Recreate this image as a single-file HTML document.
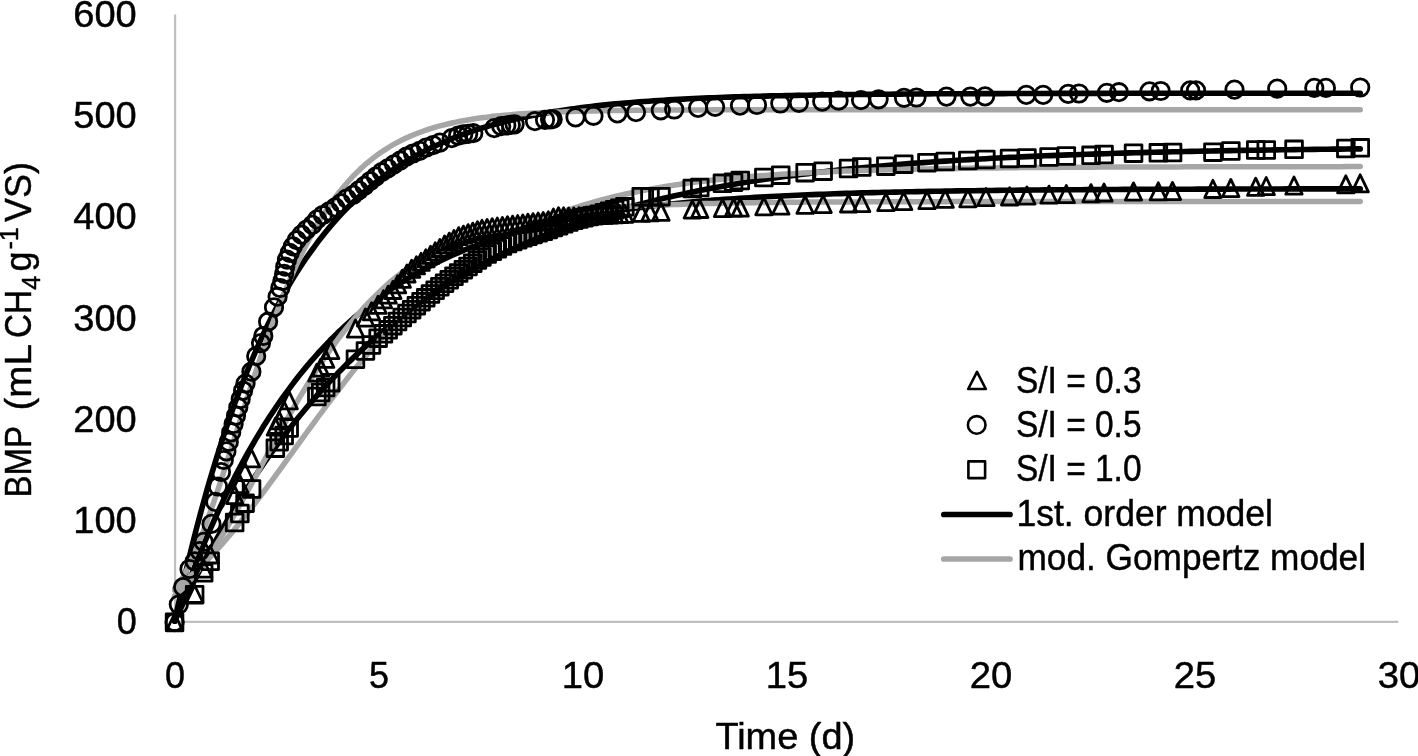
<!DOCTYPE html>
<html lang="en"><head><meta charset="utf-8"><title>BMP chart</title>
<style>html,body{margin:0;padding:0;background:#fff}svg{display:block}</style></head>
<body>
<svg width="1418" height="756" viewBox="0 0 1418 756">
<rect width="1418" height="756" fill="#fff"/>
<g stroke="#bfbfbf" fill="none"><path d="M175.1 14.6V622.8" stroke-width="2.2"/><path d="M174.1 621.8H1398.3" stroke-width="2.3"/></g>
<g stroke="#000" stroke-width="5.6" fill="none" stroke-linecap="round" stroke-linejoin="round">
<path d="M174.7 621.2 L177.9 606.4 L181.2 591.9 L184.4 577.8 L187.7 564.0 L190.9 550.6 L194.2 537.4 L197.5 524.6 L200.8 512.2 L204.2 500.0 L207.5 488.1 L210.9 476.5 L214.3 465.2 L217.7 454.3 L221.1 443.5 L224.5 433.1 L227.9 422.9 L231.4 413.0 L234.8 403.4 L238.3 394.0 L241.8 384.8 L245.3 375.9 L248.8 367.2 L252.4 358.8 L255.9 350.6 L259.5 342.6 L263.0 334.8 L266.6 327.3 L270.2 319.9 L273.9 312.8 L277.5 305.8 L281.2 299.1 L284.8 292.5 L288.5 286.1 L292.2 279.9 L295.9 273.9 L299.6 268.0 L303.4 262.3 L307.1 256.8 L310.9 251.5 L314.7 246.3 L318.4 241.2 L322.3 236.3 L326.1 231.5 L329.9 226.9 L333.8 222.4 L337.6 218.1 L341.5 213.9 L345.4 209.8 L349.3 205.8 L353.2 202.0 L357.2 198.3 L361.1 194.7 L365.1 191.2 L369.1 187.8 L373.1 184.5 L377.1 181.3 L381.1 178.2 L385.2 175.2 L389.2 172.3 L393.3 169.5 L397.4 166.8 L401.5 164.2 L405.6 161.7 L409.7 159.2 L413.8 156.9 L418.0 154.6 L422.2 152.3 L426.3 150.2 L430.5 148.1 L434.7 146.1 L439.0 144.2 L443.2 142.3 L447.5 140.5 L451.7 138.7 L456.0 137.0 L460.3 135.4 L464.6 133.8 L469.0 132.3 L473.3 130.8 L477.7 129.4 L482.0 128.0 L486.4 126.7 L490.8 125.4 L495.2 124.2 L499.7 123.0 L504.1 121.8 L508.6 120.7 L513.0 119.7 L517.5 118.6 L522.0 117.6 L526.5 116.7 L531.1 115.8 L535.6 114.9 L540.2 114.0 L544.7 113.2 L549.3 112.4 L553.9 111.6 L558.5 110.9 L563.2 110.2 L567.8 109.5 L572.5 108.9 L577.1 108.2 L581.8 107.6 L586.5 107.0 L591.2 106.5 L596.0 105.9 L600.7 105.4 L605.5 104.9 L610.3 104.4 L615.0 103.9 L619.8 103.5 L624.7 103.1 L629.5 102.7 L634.3 102.3 L639.2 101.9 L644.1 101.5 L649.0 101.2 L653.9 100.8 L658.8 100.5 L663.7 100.2 L668.7 99.9 L673.6 99.6 L678.6 99.3 L683.6 99.1 L688.6 98.8 L693.6 98.6 L698.6 98.3 L703.7 98.1 L708.8 97.9 L713.8 97.7 L718.9 97.5 L724.0 97.3 L729.2 97.1 L734.3 96.9 L739.4 96.8 L744.6 96.6 L749.8 96.5 L755.0 96.3 L760.2 96.2 L765.4 96.1 L770.6 95.9 L775.9 95.8 L781.1 95.7 L786.4 95.6 L791.7 95.5 L797.0 95.4 L802.3 95.3 L807.7 95.2 L813.0 95.1 L818.4 95.0 L823.8 94.9 L829.2 94.8 L834.6 94.8 L840.0 94.7 L845.4 94.6 L850.9 94.5 L856.3 94.5 L861.8 94.4 L867.3 94.4 L872.8 94.3 L878.4 94.3 L883.9 94.2 L889.4 94.2 L895.0 94.1 L900.6 94.1 L906.2 94.0 L911.8 94.0 L917.4 94.0 L923.1 93.9 L928.7 93.9 L934.4 93.8 L940.1 93.8 L945.8 93.8 L951.5 93.8 L957.2 93.7 L962.9 93.7 L968.7 93.7 L974.4 93.7 L980.2 93.6 L986.0 93.6 L991.8 93.6 L997.7 93.6 L1003.5 93.6 L1009.4 93.5 L1015.2 93.5 L1021.1 93.5 L1027.0 93.5 L1032.9 93.5 L1038.8 93.5 L1044.8 93.5 L1050.7 93.4 L1056.7 93.4 L1062.7 93.4 L1068.7 93.4 L1074.7 93.4 L1080.7 93.4 L1086.8 93.4 L1092.8 93.4 L1098.9 93.4 L1105.0 93.4 L1111.1 93.3 L1117.2 93.3 L1123.3 93.3 L1129.5 93.3 L1135.6 93.3 L1141.8 93.3 L1148.0 93.3 L1154.2 93.3 L1160.4 93.3 L1166.6 93.3 L1172.9 93.3 L1179.1 93.3 L1185.4 93.3 L1191.7 93.3 L1198.0 93.3 L1204.3 93.3 L1210.6 93.3 L1217.0 93.3 L1223.3 93.3 L1229.7 93.3 L1236.1 93.3 L1242.5 93.3 L1248.9 93.3 L1255.3 93.3 L1261.8 93.2 L1268.3 93.2 L1274.7 93.2 L1281.2 93.2 L1287.7 93.2 L1294.2 93.2 L1300.8 93.2 L1307.3 93.2 L1313.9 93.2 L1320.4 93.2 L1327.0 93.2 L1333.6 93.2 L1340.3 93.2 L1346.9 93.2 L1353.5 93.2 L1360.2 93.2"/>
<path d="M174.7 621.2 L177.9 614.3 L181.2 607.5 L184.4 600.8 L187.7 594.1 L190.9 587.5 L194.2 581.0 L197.5 574.5 L200.8 568.1 L204.2 561.8 L207.5 555.6 L210.9 549.4 L214.3 543.3 L217.7 537.2 L221.1 531.2 L224.5 525.3 L227.9 519.5 L231.4 513.7 L234.8 508.0 L238.3 502.3 L241.8 496.7 L245.3 491.2 L248.8 485.7 L252.4 480.4 L255.9 475.0 L259.5 469.8 L263.0 464.6 L266.6 459.4 L270.2 454.4 L273.9 449.3 L277.5 444.4 L281.2 439.5 L284.8 434.7 L288.5 429.9 L292.2 425.2 L295.9 420.6 L299.6 416.0 L303.4 411.5 L307.1 407.0 L310.9 402.6 L314.7 398.2 L318.4 393.9 L322.3 389.7 L326.1 385.5 L329.9 381.4 L333.8 377.4 L337.6 373.3 L341.5 369.4 L345.4 365.5 L349.3 361.6 L353.2 357.9 L357.2 354.1 L361.1 350.4 L365.1 346.8 L369.1 343.2 L373.1 339.7 L377.1 336.2 L381.1 332.8 L385.2 329.4 L389.2 326.1 L393.3 322.8 L397.4 319.6 L401.5 316.4 L405.6 313.3 L409.7 310.2 L413.8 307.1 L418.0 304.1 L422.2 301.2 L426.3 298.3 L430.5 295.4 L434.7 292.6 L439.0 289.8 L443.2 287.1 L447.5 284.4 L451.7 281.8 L456.0 279.2 L460.3 276.6 L464.6 274.1 L469.0 271.6 L473.3 269.2 L477.7 266.8 L482.0 264.4 L486.4 262.1 L490.8 259.8 L495.2 257.6 L499.7 255.4 L504.1 253.2 L508.6 251.1 L513.0 249.0 L517.5 246.9 L522.0 244.9 L526.5 242.9 L531.1 241.0 L535.6 239.0 L540.2 237.2 L544.7 235.3 L549.3 233.5 L553.9 231.7 L558.5 229.9 L563.2 228.2 L567.8 226.5 L572.5 224.8 L577.1 223.2 L581.8 221.6 L586.5 220.0 L591.2 218.4 L596.0 216.9 L600.7 215.4 L605.5 214.0 L610.3 212.5 L615.0 211.1 L619.8 209.7 L624.7 208.4 L629.5 207.0 L634.3 205.7 L639.2 204.4 L644.1 203.2 L649.0 201.9 L653.9 200.7 L658.8 199.5 L663.7 198.3 L668.7 197.2 L673.6 196.1 L678.6 195.0 L683.6 193.9 L688.6 192.8 L693.6 191.8 L698.6 190.8 L703.7 189.8 L708.8 188.8 L713.8 187.8 L718.9 186.9 L724.0 186.0 L729.2 185.1 L734.3 184.2 L739.4 183.3 L744.6 182.5 L749.8 181.6 L755.0 180.8 L760.2 180.0 L765.4 179.3 L770.6 178.5 L775.9 177.7 L781.1 177.0 L786.4 176.3 L791.7 175.6 L797.0 174.9 L802.3 174.2 L807.7 173.6 L813.0 172.9 L818.4 172.3 L823.8 171.7 L829.2 171.1 L834.6 170.5 L840.0 169.9 L845.4 169.3 L850.9 168.8 L856.3 168.2 L861.8 167.7 L867.3 167.2 L872.8 166.7 L878.4 166.2 L883.9 165.7 L889.4 165.2 L895.0 164.8 L900.6 164.3 L906.2 163.9 L911.8 163.4 L917.4 163.0 L923.1 162.6 L928.7 162.2 L934.4 161.8 L940.1 161.4 L945.8 161.1 L951.5 160.7 L957.2 160.3 L962.9 160.0 L968.7 159.6 L974.4 159.3 L980.2 159.0 L986.0 158.7 L991.8 158.3 L997.7 158.0 L1003.5 157.7 L1009.4 157.4 L1015.2 157.2 L1021.1 156.9 L1027.0 156.6 L1032.9 156.4 L1038.8 156.1 L1044.8 155.8 L1050.7 155.6 L1056.7 155.4 L1062.7 155.1 L1068.7 154.9 L1074.7 154.7 L1080.7 154.5 L1086.8 154.3 L1092.8 154.1 L1098.9 153.9 L1105.0 153.7 L1111.1 153.5 L1117.2 153.3 L1123.3 153.1 L1129.5 152.9 L1135.6 152.8 L1141.8 152.6 L1148.0 152.4 L1154.2 152.3 L1160.4 152.1 L1166.6 152.0 L1172.9 151.8 L1179.1 151.7 L1185.4 151.5 L1191.7 151.4 L1198.0 151.3 L1204.3 151.1 L1210.6 151.0 L1217.0 150.9 L1223.3 150.8 L1229.7 150.6 L1236.1 150.5 L1242.5 150.4 L1248.9 150.3 L1255.3 150.2 L1261.8 150.1 L1268.3 150.0 L1274.7 149.9 L1281.2 149.8 L1287.7 149.7 L1294.2 149.6 L1300.8 149.5 L1307.3 149.5 L1313.9 149.4 L1320.4 149.3 L1327.0 149.2 L1333.6 149.1 L1340.3 149.1 L1346.9 149.0 L1353.5 148.9 L1360.2 148.9"/>
<path d="M174.7 621.2 L177.9 611.9 L181.2 602.8 L184.4 593.8 L187.7 585.0 L190.9 576.4 L194.2 567.9 L197.5 559.5 L200.8 551.3 L204.2 543.3 L207.5 535.4 L210.9 527.6 L214.3 520.0 L217.7 512.5 L221.1 505.1 L224.5 497.9 L227.9 490.8 L231.4 483.9 L234.8 477.1 L238.3 470.4 L241.8 463.9 L245.3 457.4 L248.8 451.1 L252.4 445.0 L255.9 438.9 L259.5 433.0 L263.0 427.1 L266.6 421.4 L270.2 415.8 L273.9 410.4 L277.5 405.0 L281.2 399.7 L284.8 394.6 L288.5 389.6 L292.2 384.6 L295.9 379.8 L299.6 375.0 L303.4 370.4 L307.1 365.9 L310.9 361.4 L314.7 357.1 L318.4 352.8 L322.3 348.7 L326.1 344.6 L329.9 340.6 L333.8 336.7 L337.6 332.9 L341.5 329.2 L345.4 325.6 L349.3 322.0 L353.2 318.5 L357.2 315.1 L361.1 311.8 L365.1 308.6 L369.1 305.4 L373.1 302.3 L377.1 299.2 L381.1 296.3 L385.2 293.4 L389.2 290.6 L393.3 287.8 L397.4 285.1 L401.5 282.5 L405.6 279.9 L409.7 277.4 L413.8 275.0 L418.0 272.6 L422.2 270.3 L426.3 268.0 L430.5 265.8 L434.7 263.7 L439.0 261.5 L443.2 259.5 L447.5 257.5 L451.7 255.5 L456.0 253.6 L460.3 251.8 L464.6 250.0 L469.0 248.2 L473.3 246.5 L477.7 244.8 L482.0 243.2 L486.4 241.6 L490.8 240.1 L495.2 238.6 L499.7 237.1 L504.1 235.7 L508.6 234.3 L513.0 232.9 L517.5 231.6 L522.0 230.3 L526.5 229.1 L531.1 227.9 L535.6 226.7 L540.2 225.5 L544.7 224.4 L549.3 223.3 L553.9 222.3 L558.5 221.2 L563.2 220.2 L567.8 219.3 L572.5 218.3 L577.1 217.4 L581.8 216.5 L586.5 215.6 L591.2 214.8 L596.0 214.0 L600.7 213.2 L605.5 212.4 L610.3 211.7 L615.0 210.9 L619.8 210.2 L624.7 209.5 L629.5 208.9 L634.3 208.2 L639.2 207.6 L644.1 207.0 L649.0 206.4 L653.9 205.8 L658.8 205.3 L663.7 204.7 L668.7 204.2 L673.6 203.7 L678.6 203.2 L683.6 202.7 L688.6 202.2 L693.6 201.8 L698.6 201.4 L703.7 200.9 L708.8 200.5 L713.8 200.1 L718.9 199.7 L724.0 199.4 L729.2 199.0 L734.3 198.7 L739.4 198.3 L744.6 198.0 L749.8 197.7 L755.0 197.4 L760.2 197.1 L765.4 196.8 L770.6 196.5 L775.9 196.2 L781.1 196.0 L786.4 195.7 L791.7 195.5 L797.0 195.2 L802.3 195.0 L807.7 194.8 L813.0 194.6 L818.4 194.4 L823.8 194.2 L829.2 194.0 L834.6 193.8 L840.0 193.6 L845.4 193.4 L850.9 193.2 L856.3 193.1 L861.8 192.9 L867.3 192.8 L872.8 192.6 L878.4 192.5 L883.9 192.3 L889.4 192.2 L895.0 192.1 L900.6 192.0 L906.2 191.8 L911.8 191.7 L917.4 191.6 L923.1 191.5 L928.7 191.4 L934.4 191.3 L940.1 191.2 L945.8 191.1 L951.5 191.0 L957.2 190.9 L962.9 190.8 L968.7 190.8 L974.4 190.7 L980.2 190.6 L986.0 190.5 L991.8 190.5 L997.7 190.4 L1003.5 190.3 L1009.4 190.3 L1015.2 190.2 L1021.1 190.1 L1027.0 190.1 L1032.9 190.0 L1038.8 190.0 L1044.8 189.9 L1050.7 189.9 L1056.7 189.8 L1062.7 189.8 L1068.7 189.8 L1074.7 189.7 L1080.7 189.7 L1086.8 189.6 L1092.8 189.6 L1098.9 189.6 L1105.0 189.5 L1111.1 189.5 L1117.2 189.5 L1123.3 189.4 L1129.5 189.4 L1135.6 189.4 L1141.8 189.3 L1148.0 189.3 L1154.2 189.3 L1160.4 189.3 L1166.6 189.2 L1172.9 189.2 L1179.1 189.2 L1185.4 189.2 L1191.7 189.2 L1198.0 189.1 L1204.3 189.1 L1210.6 189.1 L1217.0 189.1 L1223.3 189.1 L1229.7 189.1 L1236.1 189.0 L1242.5 189.0 L1248.9 189.0 L1255.3 189.0 L1261.8 189.0 L1268.3 189.0 L1274.7 189.0 L1281.2 189.0 L1287.7 188.9 L1294.2 188.9 L1300.8 188.9 L1307.3 188.9 L1313.9 188.9 L1320.4 188.9 L1327.0 188.9 L1333.6 188.9 L1340.3 188.9 L1346.9 188.9 L1353.5 188.9 L1360.2 188.9"/>
</g>
<g stroke="#a6a6a6" stroke-width="5.5" fill="none" stroke-linecap="round" stroke-linejoin="round">
<path d="M174.7 590.5 L177.9 585.6 L181.2 580.2 L184.4 574.3 L187.7 567.9 L190.9 561.0 L194.2 553.7 L197.5 545.8 L200.8 537.6 L204.2 528.9 L207.5 519.8 L210.9 510.3 L214.3 500.6 L217.7 490.5 L221.1 480.2 L224.5 469.6 L227.9 458.9 L231.4 448.0 L234.8 437.1 L238.3 426.0 L241.8 415.0 L245.3 404.0 L248.8 393.0 L252.4 382.1 L255.9 371.3 L259.5 360.6 L263.0 350.1 L266.6 339.8 L270.2 329.8 L273.9 319.9 L277.5 310.3 L281.2 300.9 L284.8 291.8 L288.5 283.0 L292.2 274.4 L295.9 266.2 L299.6 258.2 L303.4 250.5 L307.1 243.1 L310.9 236.0 L314.7 229.2 L318.4 222.7 L322.3 216.5 L326.1 210.5 L329.9 204.9 L333.8 199.4 L337.6 194.3 L341.5 189.4 L345.4 184.7 L349.3 180.3 L353.2 176.0 L357.2 172.1 L361.1 168.3 L365.1 164.7 L369.1 161.3 L373.1 158.1 L377.1 155.1 L381.1 152.3 L385.2 149.6 L389.2 147.0 L393.3 144.6 L397.4 142.4 L401.5 140.3 L405.6 138.3 L409.7 136.4 L413.8 134.7 L418.0 133.0 L422.2 131.5 L426.3 130.0 L430.5 128.7 L434.7 127.4 L439.0 126.2 L443.2 125.1 L447.5 124.0 L451.7 123.0 L456.0 122.1 L460.3 121.3 L464.6 120.5 L469.0 119.7 L473.3 119.0 L477.7 118.3 L482.0 117.7 L486.4 117.2 L490.8 116.6 L495.2 116.1 L499.7 115.7 L504.1 115.3 L508.6 114.9 L513.0 114.5 L517.5 114.1 L522.0 113.8 L526.5 113.5 L531.1 113.2 L535.6 113.0 L540.2 112.7 L544.7 112.5 L549.3 112.3 L553.9 112.1 L558.5 111.9 L563.2 111.8 L567.8 111.6 L572.5 111.5 L577.1 111.3 L581.8 111.2 L586.5 111.1 L591.2 111.0 L596.0 110.9 L600.7 110.8 L605.5 110.7 L610.3 110.6 L615.0 110.5 L619.8 110.5 L624.7 110.4 L629.5 110.4 L634.3 110.3 L639.2 110.3 L644.1 110.2 L649.0 110.2 L653.9 110.1 L658.8 110.1 L663.7 110.1 L668.7 110.0 L673.6 110.0 L678.6 110.0 L683.6 110.0 L688.6 109.9 L693.6 109.9 L698.6 109.9 L703.7 109.9 L708.8 109.9 L713.8 109.8 L718.9 109.8 L724.0 109.8 L729.2 109.8 L734.3 109.8 L739.4 109.8 L744.6 109.8 L749.8 109.8 L755.0 109.8 L760.2 109.8 L765.4 109.8 L770.6 109.7 L775.9 109.7 L781.1 109.7 L786.4 109.7 L791.7 109.7 L797.0 109.7 L802.3 109.7 L807.7 109.7 L813.0 109.7 L818.4 109.7 L823.8 109.7 L829.2 109.7 L834.6 109.7 L840.0 109.7 L845.4 109.7 L850.9 109.7 L856.3 109.7 L861.8 109.7 L867.3 109.7 L872.8 109.7 L878.4 109.7 L883.9 109.7 L889.4 109.7 L895.0 109.7 L900.6 109.7 L906.2 109.7 L911.8 109.7 L917.4 109.7 L923.1 109.7 L928.7 109.7 L934.4 109.7 L940.1 109.7 L945.8 109.7 L951.5 109.7 L957.2 109.7 L962.9 109.7 L968.7 109.7 L974.4 109.7 L980.2 109.7 L986.0 109.7 L991.8 109.7 L997.7 109.7 L1003.5 109.7 L1009.4 109.7 L1015.2 109.7 L1021.1 109.7 L1027.0 109.7 L1032.9 109.7 L1038.8 109.7 L1044.8 109.7 L1050.7 109.7 L1056.7 109.7 L1062.7 109.7 L1068.7 109.7 L1074.7 109.7 L1080.7 109.7 L1086.8 109.7 L1092.8 109.7 L1098.9 109.7 L1105.0 109.7 L1111.1 109.7 L1117.2 109.7 L1123.3 109.7 L1129.5 109.7 L1135.6 109.7 L1141.8 109.7 L1148.0 109.7 L1154.2 109.7 L1160.4 109.7 L1166.6 109.7 L1172.9 109.7 L1179.1 109.7 L1185.4 109.7 L1191.7 109.7 L1198.0 109.7 L1204.3 109.7 L1210.6 109.7 L1217.0 109.7 L1223.3 109.7 L1229.7 109.7 L1236.1 109.7 L1242.5 109.7 L1248.9 109.7 L1255.3 109.7 L1261.8 109.7 L1268.3 109.7 L1274.7 109.7 L1281.2 109.7 L1287.7 109.7 L1294.2 109.7 L1300.8 109.7 L1307.3 109.7 L1313.9 109.7 L1320.4 109.7 L1327.0 109.7 L1333.6 109.7 L1340.3 109.7 L1346.9 109.7 L1353.5 109.7 L1360.2 109.7"/>
<path d="M174.7 588.4 L177.9 586.0 L181.2 583.5 L184.4 581.0 L187.7 578.3 L190.9 575.5 L194.2 572.6 L197.5 569.5 L200.8 566.4 L204.2 563.1 L207.5 559.8 L210.9 556.3 L214.3 552.7 L217.7 549.0 L221.1 545.2 L224.5 541.3 L227.9 537.3 L231.4 533.2 L234.8 529.1 L238.3 524.8 L241.8 520.4 L245.3 516.0 L248.8 511.4 L252.4 506.8 L255.9 502.2 L259.5 497.4 L263.0 492.6 L266.6 487.8 L270.2 482.9 L273.9 477.9 L277.5 472.9 L281.2 467.9 L284.8 462.8 L288.5 457.7 L292.2 452.6 L295.9 447.4 L299.6 442.3 L303.4 437.1 L307.1 432.0 L310.9 426.8 L314.7 421.6 L318.4 416.5 L322.3 411.3 L326.1 406.2 L329.9 401.1 L333.8 396.0 L337.6 391.0 L341.5 386.0 L345.4 381.0 L349.3 376.0 L353.2 371.1 L357.2 366.3 L361.1 361.5 L365.1 356.7 L369.1 352.1 L373.1 347.4 L377.1 342.8 L381.1 338.3 L385.2 333.9 L389.2 329.5 L393.3 325.1 L397.4 320.9 L401.5 316.7 L405.6 312.6 L409.7 308.5 L413.8 304.6 L418.0 300.7 L422.2 296.8 L426.3 293.1 L430.5 289.4 L434.7 285.8 L439.0 282.3 L443.2 278.8 L447.5 275.4 L451.7 272.1 L456.0 268.9 L460.3 265.7 L464.6 262.6 L469.0 259.6 L473.3 256.7 L477.7 253.8 L482.0 251.0 L486.4 248.3 L490.8 245.6 L495.2 243.0 L499.7 240.5 L504.1 238.1 L508.6 235.7 L513.0 233.4 L517.5 231.1 L522.0 228.9 L526.5 226.8 L531.1 224.7 L535.6 222.7 L540.2 220.7 L544.7 218.9 L549.3 217.0 L553.9 215.2 L558.5 213.5 L563.2 211.8 L567.8 210.2 L572.5 208.6 L577.1 207.1 L581.8 205.6 L586.5 204.2 L591.2 202.8 L596.0 201.5 L600.7 200.2 L605.5 198.9 L610.3 197.7 L615.0 196.5 L619.8 195.4 L624.7 194.3 L629.5 193.3 L634.3 192.2 L639.2 191.3 L644.1 190.3 L649.0 189.4 L653.9 188.5 L658.8 187.6 L663.7 186.8 L668.7 186.0 L673.6 185.3 L678.6 184.5 L683.6 183.8 L688.6 183.1 L693.6 182.4 L698.6 181.8 L703.7 181.2 L708.8 180.6 L713.8 180.0 L718.9 179.5 L724.0 179.0 L729.2 178.5 L734.3 178.0 L739.4 177.5 L744.6 177.0 L749.8 176.6 L755.0 176.2 L760.2 175.8 L765.4 175.4 L770.6 175.0 L775.9 174.7 L781.1 174.3 L786.4 174.0 L791.7 173.7 L797.0 173.4 L802.3 173.1 L807.7 172.8 L813.0 172.5 L818.4 172.3 L823.8 172.0 L829.2 171.8 L834.6 171.6 L840.0 171.3 L845.4 171.1 L850.9 170.9 L856.3 170.7 L861.8 170.6 L867.3 170.4 L872.8 170.2 L878.4 170.1 L883.9 169.9 L889.4 169.7 L895.0 169.6 L900.6 169.5 L906.2 169.3 L911.8 169.2 L917.4 169.1 L923.1 169.0 L928.7 168.9 L934.4 168.8 L940.1 168.7 L945.8 168.6 L951.5 168.5 L957.2 168.4 L962.9 168.3 L968.7 168.2 L974.4 168.1 L980.2 168.1 L986.0 168.0 L991.8 167.9 L997.7 167.9 L1003.5 167.8 L1009.4 167.8 L1015.2 167.7 L1021.1 167.6 L1027.0 167.6 L1032.9 167.5 L1038.8 167.5 L1044.8 167.5 L1050.7 167.4 L1056.7 167.4 L1062.7 167.3 L1068.7 167.3 L1074.7 167.3 L1080.7 167.2 L1086.8 167.2 L1092.8 167.2 L1098.9 167.1 L1105.0 167.1 L1111.1 167.1 L1117.2 167.1 L1123.3 167.0 L1129.5 167.0 L1135.6 167.0 L1141.8 167.0 L1148.0 166.9 L1154.2 166.9 L1160.4 166.9 L1166.6 166.9 L1172.9 166.9 L1179.1 166.9 L1185.4 166.8 L1191.7 166.8 L1198.0 166.8 L1204.3 166.8 L1210.6 166.8 L1217.0 166.8 L1223.3 166.8 L1229.7 166.8 L1236.1 166.8 L1242.5 166.7 L1248.9 166.7 L1255.3 166.7 L1261.8 166.7 L1268.3 166.7 L1274.7 166.7 L1281.2 166.7 L1287.7 166.7 L1294.2 166.7 L1300.8 166.7 L1307.3 166.7 L1313.9 166.7 L1320.4 166.7 L1327.0 166.7 L1333.6 166.7 L1340.3 166.7 L1346.9 166.6 L1353.5 166.6 L1360.2 166.6"/>
<path d="M174.7 595.7 L177.9 592.8 L181.2 589.8 L184.4 586.5 L187.7 583.0 L190.9 579.4 L194.2 575.5 L197.5 571.4 L200.8 567.1 L204.2 562.5 L207.5 557.8 L210.9 552.9 L214.3 547.9 L217.7 542.6 L221.1 537.2 L224.5 531.6 L227.9 525.8 L231.4 520.0 L234.8 514.0 L238.3 507.8 L241.8 501.6 L245.3 495.3 L248.8 488.9 L252.4 482.4 L255.9 475.9 L259.5 469.3 L263.0 462.7 L266.6 456.1 L270.2 449.5 L273.9 442.8 L277.5 436.2 L281.2 429.6 L284.8 423.1 L288.5 416.6 L292.2 410.1 L295.9 403.8 L299.6 397.4 L303.4 391.2 L307.1 385.1 L310.9 379.0 L314.7 373.1 L318.4 367.2 L322.3 361.5 L326.1 355.9 L329.9 350.3 L333.8 345.0 L337.6 339.7 L341.5 334.5 L345.4 329.5 L349.3 324.7 L353.2 319.9 L357.2 315.3 L361.1 310.8 L365.1 306.4 L369.1 302.2 L373.1 298.1 L377.1 294.1 L381.1 290.2 L385.2 286.5 L389.2 282.9 L393.3 279.4 L397.4 276.1 L401.5 272.8 L405.6 269.7 L409.7 266.7 L413.8 263.8 L418.0 261.0 L422.2 258.3 L426.3 255.7 L430.5 253.3 L434.7 250.9 L439.0 248.6 L443.2 246.4 L447.5 244.3 L451.7 242.3 L456.0 240.3 L460.3 238.5 L464.6 236.7 L469.0 235.0 L473.3 233.4 L477.7 231.8 L482.0 230.3 L486.4 228.9 L490.8 227.6 L495.2 226.3 L499.7 225.0 L504.1 223.8 L508.6 222.7 L513.0 221.6 L517.5 220.6 L522.0 219.6 L526.5 218.7 L531.1 217.8 L535.6 217.0 L540.2 216.2 L544.7 215.4 L549.3 214.7 L553.9 214.0 L558.5 213.3 L563.2 212.7 L567.8 212.1 L572.5 211.5 L577.1 211.0 L581.8 210.5 L586.5 210.0 L591.2 209.5 L596.0 209.1 L600.7 208.7 L605.5 208.3 L610.3 207.9 L615.0 207.6 L619.8 207.2 L624.7 206.9 L629.5 206.6 L634.3 206.3 L639.2 206.1 L644.1 205.8 L649.0 205.6 L653.9 205.3 L658.8 205.1 L663.7 204.9 L668.7 204.7 L673.6 204.5 L678.6 204.4 L683.6 204.2 L688.6 204.1 L693.6 203.9 L698.6 203.8 L703.7 203.6 L708.8 203.5 L713.8 203.4 L718.9 203.3 L724.0 203.2 L729.2 203.1 L734.3 203.0 L739.4 202.9 L744.6 202.8 L749.8 202.8 L755.0 202.7 L760.2 202.6 L765.4 202.5 L770.6 202.5 L775.9 202.4 L781.1 202.4 L786.4 202.3 L791.7 202.3 L797.0 202.2 L802.3 202.2 L807.7 202.1 L813.0 202.1 L818.4 202.1 L823.8 202.0 L829.2 202.0 L834.6 202.0 L840.0 202.0 L845.4 201.9 L850.9 201.9 L856.3 201.9 L861.8 201.9 L867.3 201.8 L872.8 201.8 L878.4 201.8 L883.9 201.8 L889.4 201.8 L895.0 201.8 L900.6 201.7 L906.2 201.7 L911.8 201.7 L917.4 201.7 L923.1 201.7 L928.7 201.7 L934.4 201.7 L940.1 201.7 L945.8 201.7 L951.5 201.6 L957.2 201.6 L962.9 201.6 L968.7 201.6 L974.4 201.6 L980.2 201.6 L986.0 201.6 L991.8 201.6 L997.7 201.6 L1003.5 201.6 L1009.4 201.6 L1015.2 201.6 L1021.1 201.6 L1027.0 201.6 L1032.9 201.6 L1038.8 201.6 L1044.8 201.6 L1050.7 201.6 L1056.7 201.6 L1062.7 201.6 L1068.7 201.6 L1074.7 201.6 L1080.7 201.6 L1086.8 201.6 L1092.8 201.6 L1098.9 201.6 L1105.0 201.6 L1111.1 201.6 L1117.2 201.6 L1123.3 201.6 L1129.5 201.6 L1135.6 201.6 L1141.8 201.6 L1148.0 201.5 L1154.2 201.5 L1160.4 201.5 L1166.6 201.5 L1172.9 201.5 L1179.1 201.5 L1185.4 201.5 L1191.7 201.5 L1198.0 201.5 L1204.3 201.5 L1210.6 201.5 L1217.0 201.5 L1223.3 201.5 L1229.7 201.5 L1236.1 201.5 L1242.5 201.5 L1248.9 201.5 L1255.3 201.5 L1261.8 201.5 L1268.3 201.5 L1274.7 201.5 L1281.2 201.5 L1287.7 201.5 L1294.2 201.5 L1300.8 201.5 L1307.3 201.5 L1313.9 201.5 L1320.4 201.5 L1327.0 201.5 L1333.6 201.5 L1340.3 201.5 L1346.9 201.5 L1353.5 201.5 L1360.2 201.5"/>
</g>
<g stroke="#000" stroke-width="2.8" fill="none" stroke-linejoin="round">
<path d="M174.6 613.7L182.8 630.8H166.4Z"/>
<path d="M194.7 585.5L202.9 602.5H186.5Z"/>
<path d="M203.7 560.2L211.9 577.2H195.5Z"/>
<path d="M210.2 546.0L218.4 563.0H202.0Z"/>
<path d="M234.7 486.4L242.9 503.6H226.5Z"/>
<path d="M239.8 475.4L248.0 492.6H231.6Z"/>
<path d="M245.0 463.4L253.2 480.6H236.8Z"/>
<path d="M251.5 449.6L259.7 466.8H243.3Z"/>
<path d="M275.4 418.1L283.6 435.2H267.2Z"/>
<path d="M279.2 411.8L287.4 428.9H271.0Z"/>
<path d="M284.2 401.8L292.4 418.9H276.0Z"/>
<path d="M289.2 391.8L297.4 408.9H281.0Z"/>
<path d="M316.9 364.1L325.1 381.2H308.7Z"/>
<path d="M320.7 359.1L328.9 376.2H312.5Z"/>
<path d="M325.7 350.3L333.9 367.4H317.5Z"/>
<path d="M330.7 341.6L338.9 358.7H322.5Z"/>
<path d="M355.5 319.9L363.7 337.1H347.3Z"/>
<path d="M365.5 308.9L373.7 326.1H357.3Z"/>
<path d="M371.5 302.8L379.7 319.9H363.3Z"/>
<path d="M378.1 296.2L386.3 313.4H369.9Z"/>
<path d="M383.5 290.8L391.7 307.9H375.3Z"/>
<path d="M388.2 286.1L396.4 303.2H380.0Z"/>
<path d="M392.9 281.4L401.1 298.5H384.7Z"/>
<path d="M397.6 275.8L405.8 292.9H389.4Z"/>
<path d="M402.3 270.3L410.5 287.4H394.1Z"/>
<path d="M407.0 264.9L415.2 282.0H398.8Z"/>
<path d="M411.7 260.2L419.9 277.3H403.5Z"/>
<path d="M416.4 256.8L424.6 273.9H408.2Z"/>
<path d="M421.1 253.3L429.3 270.4H412.9Z"/>
<path d="M425.8 249.8L434.0 266.9H417.6Z"/>
<path d="M430.5 246.3L438.7 263.4H422.3Z"/>
<path d="M435.2 242.8L443.4 259.9H427.0Z"/>
<path d="M439.9 239.4L448.1 256.5H431.7Z"/>
<path d="M444.6 235.9L452.8 253.0H436.4Z"/>
<path d="M449.3 233.1L457.5 250.2H441.1Z"/>
<path d="M454.0 230.4L462.2 247.5H445.8Z"/>
<path d="M458.7 227.6L466.9 244.7H450.5Z"/>
<path d="M463.4 226.1L471.6 243.2H455.2Z"/>
<path d="M468.1 224.6L476.3 241.7H459.9Z"/>
<path d="M472.8 223.1L481.0 240.2H464.6Z"/>
<path d="M477.5 221.7L485.7 238.8H469.3Z"/>
<path d="M482.0 220.3L490.2 237.4H473.8Z"/>
<path d="M487.1 219.4L495.3 236.5H478.9Z"/>
<path d="M492.2 218.7L500.4 235.8H484.0Z"/>
<path d="M497.3 218.0L505.5 235.1H489.1Z"/>
<path d="M502.4 217.4L510.6 234.5H494.2Z"/>
<path d="M507.5 216.7L515.7 233.8H499.3Z"/>
<path d="M512.6 216.1L520.8 233.2H504.4Z"/>
<path d="M517.7 215.5L525.9 232.6H509.5Z"/>
<path d="M522.8 214.9L531.0 232.0H514.6Z"/>
<path d="M527.9 214.2L536.1 231.3H519.7Z"/>
<path d="M533.0 213.6L541.2 230.7H524.8Z"/>
<path d="M538.1 213.0L546.3 230.1H529.9Z"/>
<path d="M543.2 212.5L551.4 229.6H535.0Z"/>
<path d="M548.3 211.8L556.5 228.9H540.1Z"/>
<path d="M553.4 209.0L561.6 226.1H545.2Z"/>
<path d="M558.5 207.7L566.7 224.8H550.3Z"/>
<path d="M563.6 207.8L571.8 224.9H555.4Z"/>
<path d="M568.7 207.9L576.9 225.0H560.5Z"/>
<path d="M573.8 207.9L582.0 225.0H565.6Z"/>
<path d="M578.9 207.7L587.1 224.8H570.7Z"/>
<path d="M584.0 207.4L592.2 224.5H575.8Z"/>
<path d="M589.1 207.1L597.3 224.2H580.9Z"/>
<path d="M594.2 206.8L602.4 223.9H586.0Z"/>
<path d="M599.3 206.5L607.5 223.6H591.1Z"/>
<path d="M604.4 206.2L612.6 223.3H596.2Z"/>
<path d="M609.5 206.0L617.7 223.1H601.3Z"/>
<path d="M614.6 205.7L622.8 222.8H606.4Z"/>
<path d="M619.7 205.5L627.9 222.6H611.5Z"/>
<path d="M624.8 205.2L633.0 222.3H616.6Z"/>
<path d="M641.3 204.3L649.5 221.4H633.1Z"/>
<path d="M650.0 203.8L658.2 220.9H641.8Z"/>
<path d="M661.0 203.2L669.2 220.4H652.8Z"/>
<path d="M692.3 200.9L700.5 218.1H684.1Z"/>
<path d="M699.8 200.3L708.0 217.5H691.6Z"/>
<path d="M722.5 199.4L730.7 216.6H714.3Z"/>
<path d="M733.6 199.0L741.8 216.2H725.4Z"/>
<path d="M740.2 199.0L748.4 216.2H732.0Z"/>
<path d="M763.9 197.6L772.1 214.8H755.7Z"/>
<path d="M780.8 197.1L789.0 214.2H772.6Z"/>
<path d="M805.1 196.2L813.3 213.4H796.9Z"/>
<path d="M823.1 195.5L831.3 212.7H814.9Z"/>
<path d="M848.6 194.8L856.8 212.0H840.4Z"/>
<path d="M861.7 194.5L869.9 211.7H853.5Z"/>
<path d="M885.9 193.5L894.1 210.7H877.7Z"/>
<path d="M903.7 192.5L911.9 209.7H895.5Z"/>
<path d="M927.0 191.5L935.2 208.7H918.8Z"/>
<path d="M945.2 190.2L953.4 207.4H937.0Z"/>
<path d="M967.9 189.6L976.1 206.8H959.7Z"/>
<path d="M985.9 188.5L994.1 205.7H977.7Z"/>
<path d="M1009.6 187.8L1017.8 205.0H1001.4Z"/>
<path d="M1026.9 186.9L1035.1 204.1H1018.7Z"/>
<path d="M1049.0 186.1L1057.2 203.2H1040.8Z"/>
<path d="M1066.3 185.5L1074.5 202.7H1058.1Z"/>
<path d="M1091.0 184.6L1099.2 201.8H1082.8Z"/>
<path d="M1104.0 184.0L1112.2 201.2H1095.8Z"/>
<path d="M1133.5 182.9L1141.7 200.1H1125.3Z"/>
<path d="M1158.3 182.8L1166.5 199.9H1150.1Z"/>
<path d="M1172.5 182.4L1180.7 199.6H1164.3Z"/>
<path d="M1212.9 180.3L1221.1 197.5H1204.7Z"/>
<path d="M1230.8 179.4L1239.0 196.6H1222.6Z"/>
<path d="M1255.7 178.2L1263.9 195.4H1247.5Z"/>
<path d="M1266.2 177.5L1274.4 194.7H1258.0Z"/>
<path d="M1294.0 177.0L1302.2 194.2H1285.8Z"/>
<path d="M1345.8 175.8L1354.0 192.9H1337.6Z"/>
<path d="M1360.2 174.8L1368.4 191.9H1352.0Z"/>
<circle cx="174.6" cy="622.2" r="8.7"/>
<circle cx="178.8" cy="604.5" r="8.7"/>
<circle cx="183.1" cy="587.1" r="8.7"/>
<circle cx="189.5" cy="569.0" r="8.7"/>
<circle cx="194.7" cy="561.3" r="8.7"/>
<circle cx="199.8" cy="551.0" r="8.7"/>
<circle cx="203.7" cy="541.9" r="8.7"/>
<circle cx="211.5" cy="523.9" r="8.7"/>
<circle cx="215.3" cy="501.9" r="8.7"/>
<circle cx="217.9" cy="486.5" r="8.7"/>
<circle cx="221.0" cy="472.0" r="8.7"/>
<circle cx="223.8" cy="460.0" r="8.7"/>
<circle cx="226.4" cy="451.4" r="8.7"/>
<circle cx="228.8" cy="441.9" r="8.7"/>
<circle cx="231.2" cy="432.4" r="8.7"/>
<circle cx="233.6" cy="424.0" r="8.7"/>
<circle cx="236.0" cy="415.7" r="8.7"/>
<circle cx="238.3" cy="407.4" r="8.7"/>
<circle cx="240.7" cy="399.0" r="8.7"/>
<circle cx="243.1" cy="390.7" r="8.7"/>
<circle cx="245.5" cy="383.6" r="8.7"/>
<circle cx="251.4" cy="371.7" r="8.7"/>
<circle cx="256.2" cy="356.2" r="8.7"/>
<circle cx="261.0" cy="343.1" r="8.7"/>
<circle cx="263.3" cy="336.0" r="8.7"/>
<circle cx="268.1" cy="321.7" r="8.7"/>
<circle cx="274.0" cy="307.4" r="8.7"/>
<circle cx="277.6" cy="296.7" r="8.7"/>
<circle cx="280.3" cy="288.0" r="8.7"/>
<circle cx="282.4" cy="281.0" r="8.7"/>
<circle cx="284.1" cy="273.9" r="8.7"/>
<circle cx="285.2" cy="266.7" r="8.7"/>
<circle cx="287.0" cy="259.7" r="8.7"/>
<circle cx="289.7" cy="252.9" r="8.7"/>
<circle cx="292.9" cy="246.3" r="8.7"/>
<circle cx="296.7" cy="240.2" r="8.7"/>
<circle cx="301.5" cy="234.7" r="8.7"/>
<circle cx="306.7" cy="229.5" r="8.7"/>
<circle cx="312.3" cy="224.9" r="8.7"/>
<circle cx="317.1" cy="219.4" r="8.7"/>
<circle cx="322.8" cy="215.0" r="8.7"/>
<circle cx="329.1" cy="211.4" r="8.7"/>
<circle cx="335.2" cy="207.4" r="8.7"/>
<circle cx="341.1" cy="203.2" r="8.7"/>
<circle cx="346.7" cy="198.5" r="8.7"/>
<circle cx="353.1" cy="194.9" r="8.7"/>
<circle cx="358.8" cy="190.4" r="8.7"/>
<circle cx="364.5" cy="185.8" r="8.7"/>
<circle cx="370.1" cy="181.2" r="8.7"/>
<circle cx="375.8" cy="176.6" r="8.7"/>
<circle cx="381.7" cy="172.2" r="8.7"/>
<circle cx="387.8" cy="168.3" r="8.7"/>
<circle cx="394.0" cy="164.4" r="8.7"/>
<circle cx="400.2" cy="160.6" r="8.7"/>
<circle cx="406.4" cy="156.7" r="8.7"/>
<circle cx="412.9" cy="153.5" r="8.7"/>
<circle cx="419.7" cy="150.8" r="8.7"/>
<circle cx="426.2" cy="147.5" r="8.7"/>
<circle cx="433.1" cy="145.1" r="8.7"/>
<circle cx="439.9" cy="142.6" r="8.7"/>
<circle cx="451.7" cy="138.2" r="8.7"/>
<circle cx="458.1" cy="135.7" r="8.7"/>
<circle cx="463.2" cy="134.4" r="8.7"/>
<circle cx="468.2" cy="133.8" r="8.7"/>
<circle cx="473.3" cy="133.2" r="8.7"/>
<circle cx="494.3" cy="128.1" r="8.7"/>
<circle cx="501.2" cy="126.2" r="8.7"/>
<circle cx="506.3" cy="125.5" r="8.7"/>
<circle cx="510.8" cy="124.9" r="8.7"/>
<circle cx="514.6" cy="124.3" r="8.7"/>
<circle cx="534.9" cy="121.1" r="8.7"/>
<circle cx="545.0" cy="119.8" r="8.7"/>
<circle cx="550.1" cy="119.4" r="8.7"/>
<circle cx="552.7" cy="119.2" r="8.7"/>
<circle cx="575.5" cy="117.4" r="8.7"/>
<circle cx="593.5" cy="115.8" r="8.7"/>
<circle cx="617.4" cy="113.4" r="8.7"/>
<circle cx="636.0" cy="112.1" r="8.7"/>
<circle cx="660.8" cy="110.3" r="8.7"/>
<circle cx="674.2" cy="109.5" r="8.7"/>
<circle cx="698.1" cy="107.9" r="8.7"/>
<circle cx="715.1" cy="106.8" r="8.7"/>
<circle cx="740.0" cy="105.6" r="8.7"/>
<circle cx="757.0" cy="105.0" r="8.7"/>
<circle cx="780.3" cy="103.5" r="8.7"/>
<circle cx="798.9" cy="102.8" r="8.7"/>
<circle cx="822.2" cy="101.6" r="8.7"/>
<circle cx="838.6" cy="100.7" r="8.7"/>
<circle cx="861.0" cy="100.1" r="8.7"/>
<circle cx="878.6" cy="99.3" r="8.7"/>
<circle cx="904.0" cy="97.8" r="8.7"/>
<circle cx="916.5" cy="97.5" r="8.7"/>
<circle cx="946.5" cy="96.6" r="8.7"/>
<circle cx="970.3" cy="96.6" r="8.7"/>
<circle cx="985.1" cy="96.4" r="8.7"/>
<circle cx="1026.3" cy="94.9" r="8.7"/>
<circle cx="1043.2" cy="94.9" r="8.7"/>
<circle cx="1068.2" cy="93.9" r="8.7"/>
<circle cx="1079.0" cy="93.5" r="8.7"/>
<circle cx="1106.8" cy="92.8" r="8.7"/>
<circle cx="1118.9" cy="92.2" r="8.7"/>
<circle cx="1149.5" cy="91.3" r="8.7"/>
<circle cx="1160.7" cy="91.0" r="8.7"/>
<circle cx="1190.2" cy="90.4" r="8.7"/>
<circle cx="1196.0" cy="90.3" r="8.7"/>
<circle cx="1234.5" cy="89.6" r="8.7"/>
<circle cx="1277.2" cy="88.6" r="8.7"/>
<circle cx="1314.3" cy="87.9" r="8.7"/>
<circle cx="1325.9" cy="87.9" r="8.7"/>
<circle cx="1360.2" cy="87.5" r="8.7"/>
<rect x="166.2" y="613.9" width="16.7" height="16.7"/>
<rect x="186.3" y="586.4" width="16.7" height="16.7"/>
<rect x="195.3" y="564.5" width="16.7" height="16.7"/>
<rect x="201.8" y="552.9" width="16.7" height="16.7"/>
<rect x="226.3" y="514.2" width="16.7" height="16.7"/>
<rect x="231.5" y="505.1" width="16.7" height="16.7"/>
<rect x="236.7" y="494.8" width="16.7" height="16.7"/>
<rect x="243.2" y="480.6" width="16.7" height="16.7"/>
<rect x="267.0" y="439.8" width="16.7" height="16.7"/>
<rect x="270.8" y="433.4" width="16.7" height="16.7"/>
<rect x="275.8" y="427.1" width="16.7" height="16.7"/>
<rect x="280.8" y="419.6" width="16.7" height="16.7"/>
<rect x="308.5" y="388.2" width="16.7" height="16.7"/>
<rect x="312.3" y="384.1" width="16.7" height="16.7"/>
<rect x="317.3" y="379.1" width="16.7" height="16.7"/>
<rect x="322.3" y="374.3" width="16.7" height="16.7"/>
<rect x="347.1" y="350.9" width="16.7" height="16.7"/>
<rect x="357.1" y="342.6" width="16.7" height="16.7"/>
<rect x="363.1" y="336.6" width="16.7" height="16.7"/>
<rect x="369.8" y="329.8" width="16.7" height="16.7"/>
<rect x="375.1" y="325.5" width="16.7" height="16.7"/>
<rect x="379.8" y="321.5" width="16.7" height="16.7"/>
<rect x="384.5" y="317.3" width="16.7" height="16.7"/>
<rect x="389.2" y="313.2" width="16.7" height="16.7"/>
<rect x="393.9" y="309.2" width="16.7" height="16.7"/>
<rect x="398.6" y="305.2" width="16.7" height="16.7"/>
<rect x="403.3" y="301.3" width="16.7" height="16.7"/>
<rect x="408.0" y="297.3" width="16.7" height="16.7"/>
<rect x="412.7" y="293.3" width="16.7" height="16.7"/>
<rect x="417.4" y="289.5" width="16.7" height="16.7"/>
<rect x="422.1" y="285.7" width="16.7" height="16.7"/>
<rect x="426.8" y="281.9" width="16.7" height="16.7"/>
<rect x="431.5" y="278.4" width="16.7" height="16.7"/>
<rect x="436.2" y="274.9" width="16.7" height="16.7"/>
<rect x="440.9" y="271.4" width="16.7" height="16.7"/>
<rect x="445.6" y="268.0" width="16.7" height="16.7"/>
<rect x="450.3" y="264.7" width="16.7" height="16.7"/>
<rect x="455.0" y="261.4" width="16.7" height="16.7"/>
<rect x="459.7" y="258.1" width="16.7" height="16.7"/>
<rect x="464.4" y="254.8" width="16.7" height="16.7"/>
<rect x="469.1" y="251.6" width="16.7" height="16.7"/>
<rect x="473.6" y="248.6" width="16.7" height="16.7"/>
<rect x="478.8" y="245.7" width="16.7" height="16.7"/>
<rect x="483.9" y="243.0" width="16.7" height="16.7"/>
<rect x="489.0" y="240.3" width="16.7" height="16.7"/>
<rect x="494.1" y="237.7" width="16.7" height="16.7"/>
<rect x="499.2" y="235.2" width="16.7" height="16.7"/>
<rect x="504.3" y="233.2" width="16.7" height="16.7"/>
<rect x="509.4" y="231.3" width="16.7" height="16.7"/>
<rect x="514.5" y="229.5" width="16.7" height="16.7"/>
<rect x="519.6" y="227.8" width="16.7" height="16.7"/>
<rect x="524.7" y="226.1" width="16.7" height="16.7"/>
<rect x="529.8" y="224.5" width="16.7" height="16.7"/>
<rect x="534.9" y="223.0" width="16.7" height="16.7"/>
<rect x="540.0" y="221.1" width="16.7" height="16.7"/>
<rect x="545.1" y="219.1" width="16.7" height="16.7"/>
<rect x="550.2" y="217.3" width="16.7" height="16.7"/>
<rect x="555.3" y="215.5" width="16.7" height="16.7"/>
<rect x="560.4" y="213.7" width="16.7" height="16.7"/>
<rect x="565.5" y="211.9" width="16.7" height="16.7"/>
<rect x="570.6" y="210.6" width="16.7" height="16.7"/>
<rect x="575.7" y="209.4" width="16.7" height="16.7"/>
<rect x="580.8" y="208.2" width="16.7" height="16.7"/>
<rect x="585.9" y="207.1" width="16.7" height="16.7"/>
<rect x="591.0" y="206.0" width="16.7" height="16.7"/>
<rect x="596.1" y="204.4" width="16.7" height="16.7"/>
<rect x="601.2" y="202.9" width="16.7" height="16.7"/>
<rect x="606.3" y="201.4" width="16.7" height="16.7"/>
<rect x="611.4" y="199.9" width="16.7" height="16.7"/>
<rect x="616.5" y="198.5" width="16.7" height="16.7"/>
<rect x="632.9" y="188.3" width="16.7" height="16.7"/>
<rect x="641.6" y="188.3" width="16.7" height="16.7"/>
<rect x="652.6" y="188.3" width="16.7" height="16.7"/>
<rect x="683.9" y="180.2" width="16.7" height="16.7"/>
<rect x="691.4" y="179.2" width="16.7" height="16.7"/>
<rect x="714.1" y="175.0" width="16.7" height="16.7"/>
<rect x="725.2" y="173.8" width="16.7" height="16.7"/>
<rect x="731.9" y="172.2" width="16.7" height="16.7"/>
<rect x="755.5" y="169.2" width="16.7" height="16.7"/>
<rect x="772.4" y="166.8" width="16.7" height="16.7"/>
<rect x="796.8" y="164.3" width="16.7" height="16.7"/>
<rect x="814.8" y="162.8" width="16.7" height="16.7"/>
<rect x="840.2" y="160.2" width="16.7" height="16.7"/>
<rect x="853.4" y="158.7" width="16.7" height="16.7"/>
<rect x="877.5" y="157.8" width="16.7" height="16.7"/>
<rect x="895.4" y="155.8" width="16.7" height="16.7"/>
<rect x="918.6" y="154.3" width="16.7" height="16.7"/>
<rect x="936.9" y="153.2" width="16.7" height="16.7"/>
<rect x="959.5" y="152.2" width="16.7" height="16.7"/>
<rect x="977.5" y="151.2" width="16.7" height="16.7"/>
<rect x="1001.2" y="150.2" width="16.7" height="16.7"/>
<rect x="1018.6" y="149.7" width="16.7" height="16.7"/>
<rect x="1040.7" y="148.7" width="16.7" height="16.7"/>
<rect x="1058.0" y="147.6" width="16.7" height="16.7"/>
<rect x="1082.7" y="147.0" width="16.7" height="16.7"/>
<rect x="1095.7" y="146.2" width="16.7" height="16.7"/>
<rect x="1125.2" y="144.8" width="16.7" height="16.7"/>
<rect x="1150.0" y="144.5" width="16.7" height="16.7"/>
<rect x="1164.2" y="144.2" width="16.7" height="16.7"/>
<rect x="1204.6" y="143.8" width="16.7" height="16.7"/>
<rect x="1222.5" y="142.7" width="16.7" height="16.7"/>
<rect x="1247.4" y="141.7" width="16.7" height="16.7"/>
<rect x="1257.9" y="141.7" width="16.7" height="16.7"/>
<rect x="1285.7" y="141.0" width="16.7" height="16.7"/>
<rect x="1337.5" y="140.2" width="16.7" height="16.7"/>
<rect x="1351.9" y="139.5" width="16.7" height="16.7"/>
</g>
<g stroke="#000" stroke-width="2.6" fill="none" stroke-linejoin="round">
<path d="M977.0 371.8L985.8 389.0H968.2Z"/>
<circle cx="976.7" cy="424.9" r="8.8"/>
<rect x="968.4" y="461.4" width="16.7" height="16.7"/>
</g>
<path d="M943.8 514.5H1010" stroke="#000" stroke-width="5.7" stroke-linecap="round"/>
<path d="M943.8 559.0H1010" stroke="#a6a6a6" stroke-width="5.7" stroke-linecap="round"/>
<g font-family="'Liberation Sans', Arial, sans-serif" font-size="36" fill="#000" stroke="#000" stroke-width="0.45" stroke-linejoin="round">
<text x="1016.0" y="392.5" textLength="125.5" lengthAdjust="spacingAndGlyphs">S/I = 0.3</text>
<text x="1016.0" y="436.8" textLength="125.5" lengthAdjust="spacingAndGlyphs">S/I = 0.5</text>
<text x="1016.0" y="481.1" textLength="125.5" lengthAdjust="spacingAndGlyphs">S/I = 1.0</text>
<text x="1016.5" y="525.5" textLength="256.5" lengthAdjust="spacingAndGlyphs">1st. order model</text>
<text x="1017.5" y="570.0" textLength="348.5" lengthAdjust="spacingAndGlyphs">mod. Gompertz model</text>
<text x="175.0" y="688.3" text-anchor="middle">0</text>
<text x="379.0" y="688.3" text-anchor="middle">5</text>
<text x="583.0" y="688.3" text-anchor="middle" textLength="42.5" lengthAdjust="spacingAndGlyphs">10</text>
<text x="787.0" y="688.3" text-anchor="middle" textLength="42.5" lengthAdjust="spacingAndGlyphs">15</text>
<text x="991.0" y="688.3" text-anchor="middle" textLength="42.5" lengthAdjust="spacingAndGlyphs">20</text>
<text x="1195.0" y="688.3" text-anchor="middle" textLength="42.5" lengthAdjust="spacingAndGlyphs">25</text>
<text x="1399.0" y="688.3" text-anchor="middle" textLength="42.5" lengthAdjust="spacingAndGlyphs">30</text>
<text x="136.8" y="634.0" text-anchor="end">0</text>
<text x="136.8" y="532.9" text-anchor="end" textLength="63.5" lengthAdjust="spacingAndGlyphs">100</text>
<text x="136.8" y="431.7" text-anchor="end" textLength="63.5" lengthAdjust="spacingAndGlyphs">200</text>
<text x="136.8" y="330.6" text-anchor="end" textLength="63.5" lengthAdjust="spacingAndGlyphs">300</text>
<text x="136.8" y="229.4" text-anchor="end" textLength="63.5" lengthAdjust="spacingAndGlyphs">400</text>
<text x="136.8" y="128.3" text-anchor="end" textLength="63.5" lengthAdjust="spacingAndGlyphs">500</text>
<text x="136.8" y="27.2" text-anchor="end" textLength="63.5" lengthAdjust="spacingAndGlyphs">600</text>
<text x="785.3" y="748.7" text-anchor="middle" textLength="139.8" lengthAdjust="spacingAndGlyphs">Time (d)</text>
<text transform="translate(31.2 497.5) rotate(-90)"><tspan x="0.0" y="0.0" textLength="71.0" lengthAdjust="spacingAndGlyphs">BMP</tspan> <tspan x="87.0" y="0.0" textLength="65.0" lengthAdjust="spacingAndGlyphs">(mL</tspan> <tspan x="159.5" y="0.0" textLength="48.0" lengthAdjust="spacingAndGlyphs">CH</tspan><tspan x="207.7" y="8.3" font-size="25">4</tspan> <tspan x="226.0" y="0.0">g</tspan><tspan x="248.0" y="-13.4" font-size="25">-1</tspan> <tspan x="275.5" y="0.0" textLength="60.0" lengthAdjust="spacingAndGlyphs">VS)</tspan></text>
</g>
</svg>
</body></html>
